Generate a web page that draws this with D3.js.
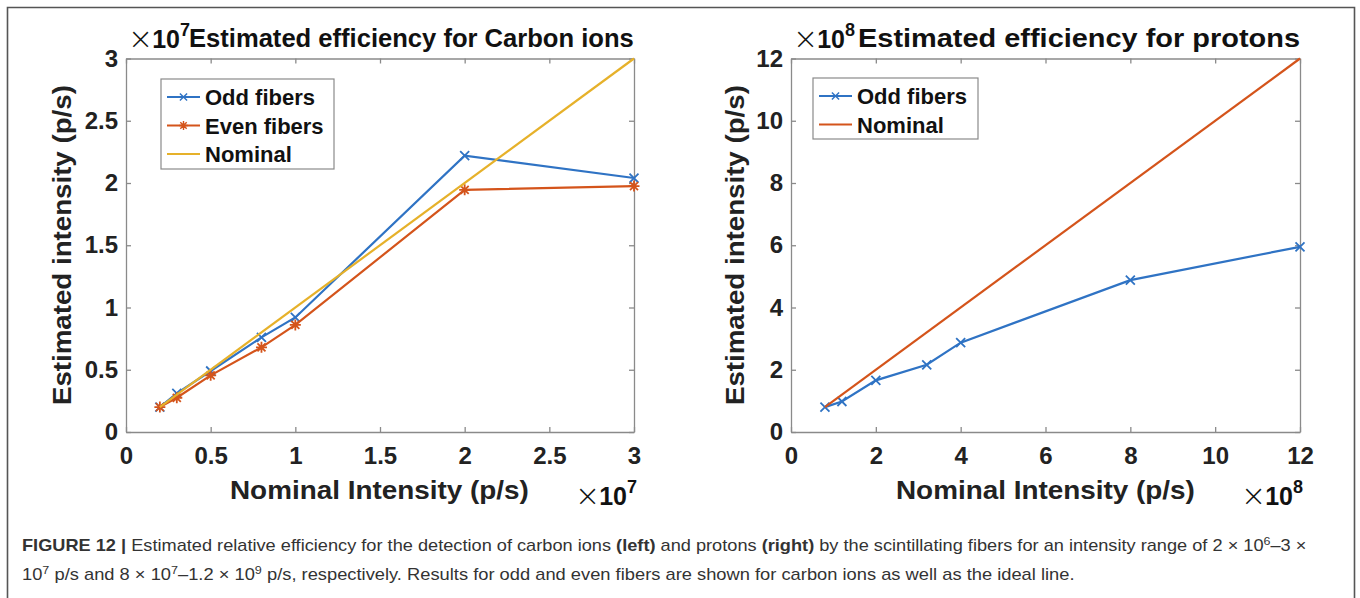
<!DOCTYPE html>
<html>
<head>
<meta charset="utf-8">
<script src="https://cdn.jsdelivr.net/npm/d3@7"></script>
<style>
  body { margin: 0; background: #fff; }
  svg { display: block; }
  text { font-family: "Liberation Sans", Arial, Helvetica, sans-serif; }
</style>
</head>
<body>
<div id="vis"></div>
<script>
// carbon ions, both axes in units of 1e7 p/s
var carbonX = [0.2, 0.3, 0.5, 0.8, 1, 2, 3];
var carbonOdd = [0.2, 0.31, 0.49, 0.76, 0.92, 2.22, 2.04];
var carbonEven = [0.2, 0.275, 0.455, 0.68, 0.86, 1.945, 1.975];
var carbonNominalX = [0.2, 3];
var carbonNominal = [0.2, 3];
var carbonTicks = [0, 0.5, 1, 1.5, 2, 2.5, 3];

// protons, both axes in units of 1e8 p/s
var protonX = [0.8, 1.2, 2, 3.2, 4, 8, 12];
var protonOdd = [0.8, 0.98, 1.66, 2.16, 2.87, 4.88, 5.95];
var protonNominalX = [0.8, 12];
var protonNominal = [0.8, 12];
var protonTicks = [0, 2, 4, 6, 8, 10, 12];

var blue = "#2f73c4", orange = "#d4541b", yellow = "#e6b12a";

var svg = d3.select("#vis").append("svg")
  .attr("width", 1360)
  .attr("height", 598);

// outer frame of the figure
svg.append("path")
  .attr("d", "M7.5,605V7.5H1354.5V605")
  .attr("fill", "none")
  .attr("stroke", "#555")
  .attr("stroke-width", 1.6);

// squeeze a text horizontally so it spans a given width
function fitWidth(t, x0, y0, w) {
  var bw = t.node().getBBox().width;
  t.attr("x", 0).attr("y", 0)
    .attr("transform", "translate(" + x0 + "," + y0 + ") scale(" + (w / bw) + ",1)");
}

function drawExp(g, x0, y0, e) {
  var t = g.append("text").attr("x", x0).attr("y", y0).attr("fill", "#111");
  t.append("tspan").attr("font-size", 30).attr("font-family", "DejaVu Sans").attr("font-weight", 200).attr("dy", 1).text("\u00d7");
  t.append("tspan").attr("font-size", 25).attr("font-weight", "bold").attr("dx", -1).attr("dy", -1).text("10");
  t.append("tspan").attr("font-size", 18).attr("font-weight", "bold").attr("dy", -12).text(e);
}

var markX = "M-4.5,-4.5L4.5,4.5M-4.5,4.5L4.5,-4.5";
var markStar = "M-4,-4L4,4M-4,4L4,-4M0,-5.5V5.5M-5.5,0H5.5";

function panel(p) {
  var x = d3.scaleLinear().domain(p.domain).range([p.left, p.right]);
  var y = d3.scaleLinear().domain(p.domain).range([432, 58.5]);
  var g = svg.append("g");

  // box and inward ticks on all four sides
  g.append("g").attr("class", "axis").attr("transform", "translate(0,432)")
    .call(d3.axisBottom(x).tickValues(p.ticks).tickSize(-5).tickSizeOuter(0).tickPadding(15).tickFormat(d3.format("~g")));
  g.append("g").attr("class", "axis").attr("transform", "translate(0,58.5)")
    .call(d3.axisTop(x).tickValues(p.ticks).tickSize(-5).tickSizeOuter(0).tickFormat(""));
  g.append("g").attr("class", "axis").attr("transform", "translate(" + p.left + ",0)")
    .call(d3.axisLeft(y).tickValues(p.ticks).tickSize(-5).tickSizeOuter(0).tickPadding(8).tickFormat(d3.format("~g")));
  g.append("g").attr("class", "axis").attr("transform", "translate(" + p.right + ",0)")
    .call(d3.axisRight(y).tickValues(p.ticks).tickSize(-5).tickSizeOuter(0).tickFormat(""));

  g.selectAll(".axis path, .axis line").attr("stroke", "#8a8a8a").attr("stroke-width", 1.3);
  g.selectAll(".axis text")
    .attr("font-size", 24)
    .attr("font-weight", "bold")
    .attr("fill", "#222");

  var line = d3.line()
    .x(function(d) { return x(d[0]); })
    .y(function(d) { return y(d[1]); });

  p.series.forEach(function(s) {
    var pts = d3.zip(s.x, s.y);
    g.append("path")
      .attr("d", line(pts))
      .attr("fill", "none")
      .attr("stroke", s.color)
      .attr("stroke-width", 2.2);
    if (s.mark) {
      g.selectAll(null).data(pts).enter().append("path")
        .attr("transform", function(d) { return "translate(" + x(d[0]) + "," + y(d[1]) + ")"; })
        .attr("d", s.mark)
        .attr("fill", "none")
        .attr("stroke", s.color)
        .attr("stroke-width", 1.8);
    }
  });

  // legend
  var lg = p.legend;
  g.append("rect")
    .attr("x", lg.x).attr("y", lg.y)
    .attr("width", lg.w).attr("height", lg.h)
    .attr("fill", "#fff")
    .attr("stroke", "#8a8a8a")
    .attr("stroke-width", 1.2);
  p.series.forEach(function(s, i) {
    var ly = lg.y + 18 + i * 28.5;
    var lx = lg.x + 6;
    g.append("line")
      .attr("x1", lx).attr("x2", lx + 33)
      .attr("y1", ly).attr("y2", ly)
      .attr("stroke", s.color).attr("stroke-width", 2.2);
    if (s.mark) {
      g.append("path")
        .attr("transform", "translate(" + (lx + 16.5) + "," + ly + ") scale(0.8)")
        .attr("d", s.mark)
        .attr("fill", "none").attr("stroke", s.color).attr("stroke-width", 1.8);
    }
    g.append("text")
      .attr("x", lx + 38).attr("y", ly + 8)
      .attr("font-size", 22).attr("font-weight", "bold").attr("fill", "#111")
      .text(s.name);
  });

  // titles and labels
  drawExp(g, p.left + 2, 48, p.exp);
  var tt = g.append("text")
    .attr("font-size", 26).attr("font-weight", "bold").attr("fill", "#111")
    .text(p.title);
  fitWidth(tt, p.titleX, 47, p.right - p.titleX);

  var xl = g.append("text")
    .attr("font-size", 26).attr("font-weight", "bold").attr("fill", "#222")
    .text("Nominal Intensity (p/s)");
  fitWidth(xl, p.xlabX, 499, p.xlabW);
  drawExp(g, p.right - 59, 505, p.exp);

  var yl = g.append("text")
    .attr("font-size", 26).attr("font-weight", "bold").attr("fill", "#222")
    .text("Estimated intensity (p/s)");
  var bw = yl.node().getBBox().width;
  yl.attr("transform", "translate(" + p.ylabX + ",405) rotate(-90) scale(" + (320 / bw) + ",1)");
}

panel({
  left: 126, right: 634, domain: [0, 3], ticks: carbonTicks, exp: "7",
  title: "Estimated efficiency for Carbon ions", titleX: 189,
  xlabX: 230, xlabW: 299, ylabX: 71,
  legend: {x: 161, y: 79, w: 173, h: 90},
  series: [
    {name: "Odd fibers", x: carbonX, y: carbonOdd, color: blue, mark: markX},
    {name: "Even fibers", x: carbonX, y: carbonEven, color: orange, mark: markStar},
    {name: "Nominal", x: carbonNominalX, y: carbonNominal, color: yellow}
  ]
});

panel({
  left: 791, right: 1300, domain: [0, 12], ticks: protonTicks, exp: "8",
  title: "Estimated efficiency for protons", titleX: 858,
  xlabX: 896, xlabW: 299, ylabX: 744,
  legend: {x: 813, y: 78, w: 165, h: 61},
  series: [
    {name: "Odd fibers", x: protonX, y: protonOdd, color: blue, mark: markX},
    {name: "Nominal", x: protonNominalX, y: protonNominal, color: orange}
  ]
});

// caption
var cap1 = svg.append("text").attr("font-size", 16).attr("fill", "#333");
cap1.append("tspan").attr("font-weight", "bold").text("FIGURE 12 | ");
cap1.append("tspan").text("Estimated relative efficiency for the detection of carbon ions ");
cap1.append("tspan").attr("font-weight", "bold").text("(left)");
cap1.append("tspan").text(" and protons ");
cap1.append("tspan").attr("font-weight", "bold").text("(right)");
cap1.append("tspan").text(" by the scintillating fibers for an intensity range of 2 \u00d7 10");
cap1.append("tspan").attr("font-size", 11).attr("dy", -6).text("6");
cap1.append("tspan").attr("dy", 6).text("\u20133 \u00d7");
fitWidth(cap1, 22, 551, 1285);

var cap2 = svg.append("text").attr("font-size", 16).attr("fill", "#333");
cap2.append("tspan").text("10");
cap2.append("tspan").attr("font-size", 11).attr("dy", -6).text("7");
cap2.append("tspan").attr("dy", 6).text(" p/s and 8 \u00d7 10");
cap2.append("tspan").attr("font-size", 11).attr("dy", -6).text("7");
cap2.append("tspan").attr("dy", 6).text("\u20131.2 \u00d7 10");
cap2.append("tspan").attr("font-size", 11).attr("dy", -6).text("9");
cap2.append("tspan").attr("dy", 6).text(" p/s, respectively. Results for odd and even fibers are shown for carbon ions as well as the ideal line.");
fitWidth(cap2, 22, 580, 1053);
</script>
</body>
</html>
